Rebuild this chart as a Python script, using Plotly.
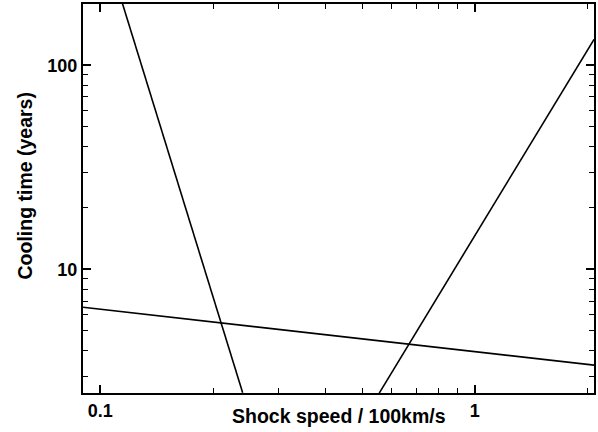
import plotly.graph_objects as go

# (log-log straight lines, endpoints)
line1_v = [0.1144, 0.240]
line1_t = [203, 2.49]
line2_v = [0.5556, 2.08]
line2_t = [2.48, 134]
line3_v = [0.090, 2.08]
line3_t = [6.53, 3.40]

x_ticks = [0.1, 1]
x_ticklabels = ["0.1", "1"]
y_ticks = [10, 100]
y_ticklabels = ["10", "100"]
x_minor = [0.09, 0.2, 0.3, 0.4, 0.5, 0.6, 0.7, 0.8, 0.9, 2]
y_minor = [3, 4, 5, 6, 7, 8, 9, 20, 30, 40, 50, 60, 70, 80, 90, 200]

fig = go.Figure()
for vx, ty in [(line1_v, line1_t), (line2_v, line2_t), (line3_v, line3_t)]:
    fig.add_trace(go.Scatter(x=vx, y=ty, mode="lines",
                             line=dict(color="black", width=1.6),
                             showlegend=False, hoverinfo="skip"))

tick_font = dict(family="Liberation Sans, Arial, sans-serif", size=18, color="black", weight="bold")
title_font = dict(family="Liberation Sans, Arial, sans-serif", size=19.5, color="black", weight="bold")

axis_common = dict(type="log", showgrid=False, zeroline=False,
                   showline=True, linecolor="black", linewidth=2,
                   mirror="allticks", ticks="inside", ticklen=8, tickwidth=1.5,
                   tickcolor="black", tickfont=tick_font)

fig.update_xaxes(**axis_common, range=[-1.046, 0.318],
                 tickvals=x_ticks, ticktext=x_ticklabels,
                 minor=dict(tickvals=x_minor, ticks="inside", ticklen=5,
                            tickwidth=1.2, tickcolor="black"))
fig.update_yaxes(**axis_common, range=[0.395, 2.30],
                 tickvals=y_ticks, ticktext=y_ticklabels,
                 minor=dict(tickvals=y_minor, ticks="inside", ticklen=5,
                            tickwidth=1.2, tickcolor="black"))

fig.add_annotation(text="Shock speed / 100km/s", xref="paper", yref="paper",
                   x=0.5, y=0, yshift=-23, showarrow=False, font=title_font,
                   xanchor="center", yanchor="middle")
fig.add_annotation(text="Cooling time (years)", xref="paper", yref="paper",
                   x=0, y=0.5, xshift=-59, yshift=12, textangle=-90,
                   showarrow=False, font=title_font,
                   xanchor="center", yanchor="middle")

fig.update_layout(width=598, height=432,
                  margin=dict(l=83, r=2, t=3, b=39),
                  plot_bgcolor="white", paper_bgcolor="white")

fig.write_html("out.html")
